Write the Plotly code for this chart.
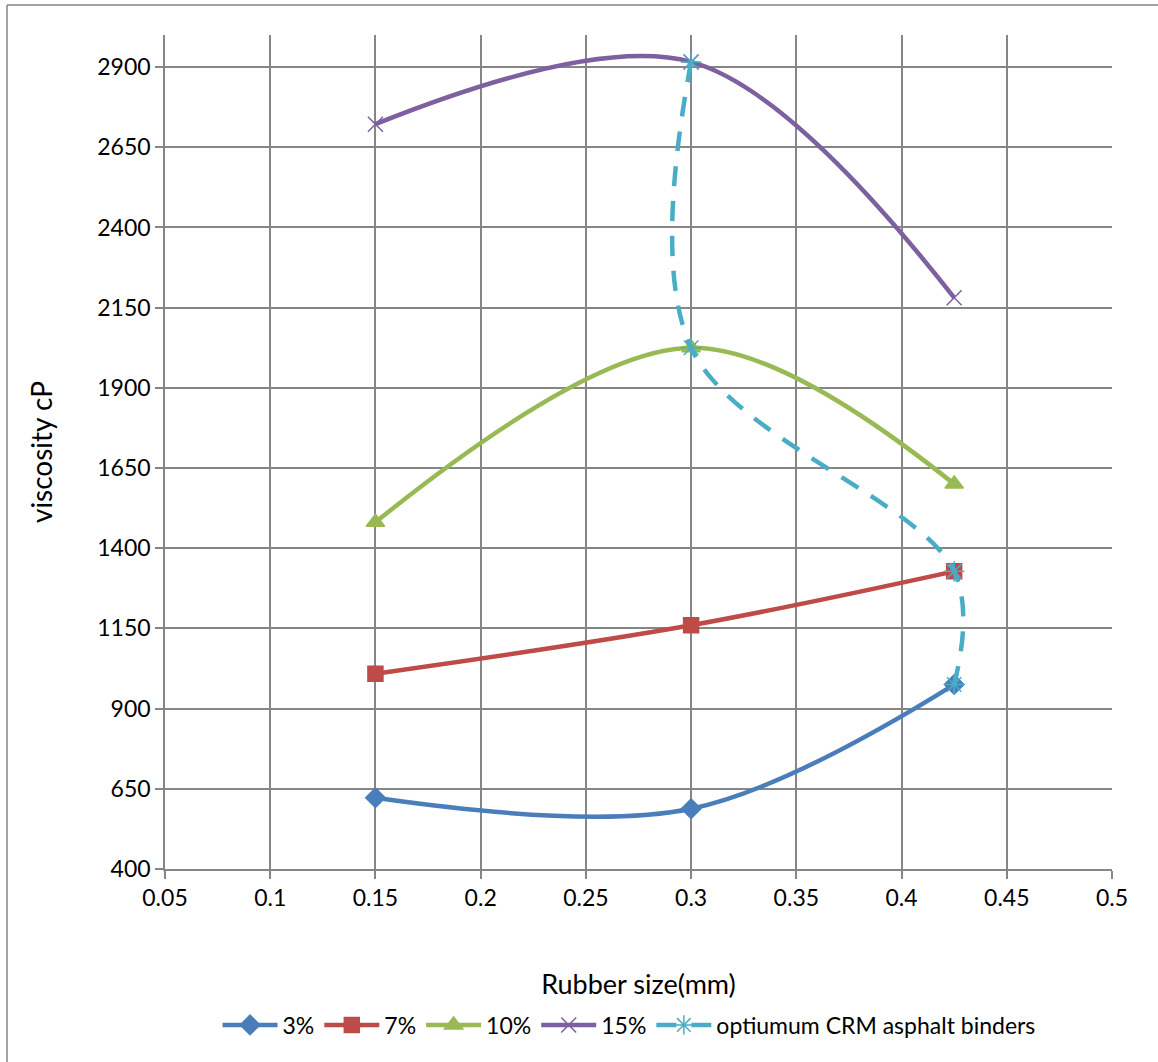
import plotly.graph_objects as go

rubber_size = [0.15, 0.3, 0.425]
v3 = [622, 588, 975]
v7 = [1009, 1160, 1328]
v10 = [1481, 2025, 1600]
v15 = [2722, 2916, 2181]
opt_x = [0.3, 0.3, 0.425, 0.425]
opt_y = [2916, 2025, 1328, 975]

series = [
    ("3%", v3, "#4A7EBB", "diamond", 15),
    ("7%", v7, "#BE4B48", "square", 15),
    ("10%", v10, "#98B954", "triangle-up", 16),
    ("15%", v15, "#7D60A0", "x-thin-open", 15),
]

fig = go.Figure()
for name, vals, col, sym, sz in series:
    fig.add_trace(go.Scatter(
        x=rubber_size, y=vals, name=name, mode="lines+markers",
        line=dict(color=col, width=4.5, shape="spline", smoothing=1.0),
        marker=dict(symbol=sym, size=sz, color=col,
                    line=dict(color=col, width=1.5)),
    ))
fig.add_trace(go.Scatter(
    x=opt_x, y=opt_y, name="optiumum CRM asphalt binders", mode="lines+markers",
    line=dict(color="#4BACC6", width=4.5, dash="20px,15px", shape="spline", smoothing=1.0),
    marker=dict(symbol="asterisk-open", size=17, color="#4BACC6",
                line=dict(color="#4BACC6", width=1.5)),
))

W, H = 1158, 1062
L, R, T, B = 165, 46, 35, 193
pw, ph = W - L - R, H - T - B

grid = "#868686"
fig.update_layout(
    width=W, height=H,
    margin=dict(l=L, r=R, t=T, b=B),
    paper_bgcolor="white", plot_bgcolor="white",
    font=dict(family="Lato, Carlito, Calibri, sans-serif", size=23, color="black"),
    showlegend=True,
    legend=dict(orientation="h", x=0.49, xanchor="center", y=-0.187, yanchor="middle",
                font=dict(size=23), itemwidth=55, tracegroupgap=0),
    xaxis=dict(range=[0.05, 0.5], tickvals=[0.05, 0.1, 0.15, 0.2, 0.25, 0.3, 0.35, 0.4, 0.45, 0.5],
               ticktext=["0.05", "0.1", "0.15", "0.2", "0.25", "0.3", "0.35", "0.4", "0.45", "0.5"],
               showgrid=True, gridcolor=grid, gridwidth=1.5,
               showline=True, linecolor=grid, linewidth=1.5,
               ticks="outside", ticklen=8, tickcolor=grid, tickwidth=1.5,
               zeroline=False, tickfont=dict(size=23),
               title=dict(text="Rubber size(mm)", font=dict(size=27), standoff=65)),
    yaxis=dict(range=[400, 3000], tickvals=[400, 650, 900, 1150, 1400, 1650, 1900, 2150, 2400, 2650, 2900],
               showgrid=True, gridcolor=grid, gridwidth=1.5,
               showline=True, linecolor=grid, linewidth=1.5,
               ticks="outside", ticklen=8, tickcolor=grid, tickwidth=1.5,
               zeroline=False, tickfont=dict(size=23),
               title=dict(text="viscosity cP", font=dict(size=28), standoff=36)),
    shapes=[
        dict(type="line", xref="paper", yref="paper",
             x0=(7 - L) / pw, x1=(W - L) / pw, y0=1 + (T - 5) / ph, y1=1 + (T - 5) / ph,
             line=dict(color=grid, width=1.5)),
        dict(type="line", xref="paper", yref="paper",
             x0=(7 - L) / pw, x1=(7 - L) / pw, y0=1 + (T - 5) / ph, y1=-(B) / ph,
             line=dict(color=grid, width=1.5)),
    ],
)
fig.write_html("out.html")
